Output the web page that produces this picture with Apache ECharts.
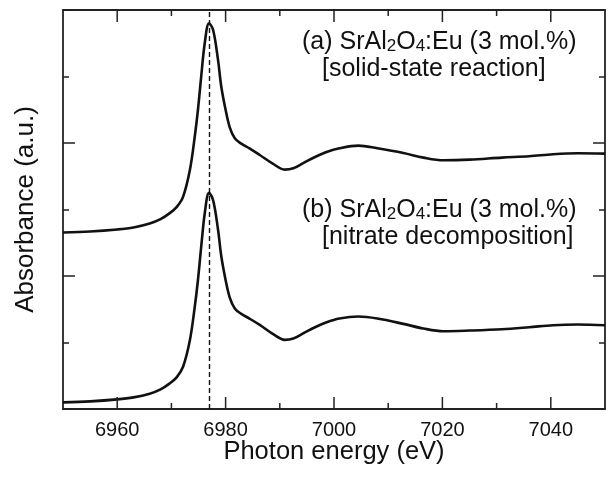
<!DOCTYPE html>
<html>
<head>
<meta charset="utf-8">
<script src="https://cdn.jsdelivr.net/npm/echarts@6/dist/echarts.min.js"></script>
<style>
  html, body { margin: 0; padding: 0; background: #ffffff; }
  #chart { width: 608px; height: 477px; }
</style>
</head>
<body>
<div id="chart"></div>
<script>
// Photon energy (eV) sample points shared by both spectra
var energy = [6950, 6955, 6960, 6963, 6966, 6968, 6969.7, 6971, 6972.15, 6973.4, 6974.3, 6974.9, 6975.5, 6976.15, 6976.94, 6977.7, 6978.6, 6979.2, 6980, 6980.75, 6981.7, 6982.9, 6984.4, 6986.3, 6988.7, 6990.9, 6992.5, 6994.4, 6996.5, 6998.5, 7001, 7004.5, 7008, 7012.8, 7016.5, 7020.2, 7025, 7031, 7036, 7040.4, 7045, 7050];
// (a) solid-state reaction (offset upward)
var absorbanceA = [2.655, 2.67, 2.70, 2.73, 2.79, 2.855, 2.945, 3.04, 3.19, 3.59, 4.09, 4.50, 5.00, 5.50, 5.80, 5.70, 5.25, 4.85, 4.50, 4.24, 4.07, 3.99, 3.92, 3.82, 3.69, 3.60, 3.62, 3.70, 3.79, 3.86, 3.92, 3.96, 3.92, 3.85, 3.78, 3.74, 3.75, 3.78, 3.80, 3.83, 3.845, 3.84];
// (b) nitrate decomposition
var absorbanceB = [0.10, 0.115, 0.145, 0.175, 0.23, 0.295, 0.385, 0.48, 0.635, 1.03, 1.53, 1.94, 2.44, 2.94, 3.25, 3.14, 2.70, 2.30, 1.94, 1.68, 1.51, 1.43, 1.36, 1.265, 1.13, 1.04, 1.06, 1.14, 1.23, 1.30, 1.36, 1.39, 1.36, 1.28, 1.21, 1.17, 1.18, 1.20, 1.23, 1.26, 1.27, 1.26];
var peakEnergy = 6977;
var xRange = [6950, 7050];
var xTickStep = 10;      // ticks every 10 eV
var xLabelStep = 20;     // labels + long ticks every 20 eV
var xTickMarks = [6960, 6970, 6980, 6990, 7000, 7010, 7020, 7030, 7040];
var yRange = [0, 6];
var labelA = ['(a) SrAl{s|2}O{s|4}:Eu (3 mol.%)', '[solid-state reaction]'];
var labelB = ['(b) SrAl{s|2}O{s|4}:Eu (3 mol.%)', '[nitrate decomposition]'];

function pairs(xs, ys) { return xs.map(function (x, i) { return [x, ys[i]]; }); }

var FONT = '"Liberation Sans", Arial, Helvetica, sans-serif';
var FRAME = '#222';
var TXT = '#111';
var chart = echarts.init(document.getElementById('chart'));

function frameX(pos, extra) {
  return Object.assign({
    type: 'value', position: pos, min: xRange[0], max: xRange[1], interval: xTickStep,
    axisLine: { show: true, onZero: false, lineStyle: { color: FRAME, width: 1.8 } },
    axisTick: { show: false },
    axisLabel: { show: false }, splitLine: { show: false }
  }, extra || {});
}
function yAx(pos, extra) {
  return Object.assign({
    type: 'value', position: pos, min: yRange[0], max: yRange[1], interval: 2,
    axisLine: { show: true, onZero: false, lineStyle: { color: FRAME, width: 1.8 } },
    axisTick: { show: true, inside: true, length: 12, lineStyle: { color: FRAME, width: 1.5 } },
    minorTick: { show: true, splitNumber: 2, length: 6, lineStyle: { color: FRAME, width: 1.5 } },
    axisLabel: { show: false },
    splitLine: { show: false }
  }, extra || {});
}

function labelText(lines, x, y) {
  return [
    { type: 'text', x: x, y: y, style: { text: lines[0], fontSize: 25, lineHeight: 26, fontFamily: FONT, fill: TXT, verticalAlign: 'top', align: 'left',
      rich: { s: { fontSize: 17, lineHeight: 26, verticalAlign: 'bottom', fontFamily: FONT, fill: TXT } } } },
    { type: 'text', x: x + 20, y: y + 27, style: { text: lines[1], fontSize: 25, lineHeight: 26, fontFamily: FONT, fill: TXT, verticalAlign: 'top', align: 'left' } }
  ];
}

chart.setOption({
  animation: false,
  backgroundColor: '#ffffff',
  grid: { left: 63, top: 10, right: 2, bottom: 68 },
  xAxis: [
    frameX('bottom', {
      axisLabel: {
        show: true, margin: 11, fontSize: 20, color: TXT, fontFamily: FONT,
        formatter: function (v) { return v % xLabelStep === 0 ? String(v) : ''; }
      },
      name: 'Photon energy (eV)', nameLocation: 'middle', nameGap: 30, nameMoveOverlap: false,
      nameTextStyle: { fontSize: 25.5, color: TXT, fontFamily: FONT }
    }),
    frameX('top')
  ],
  yAxis: [
    yAx('left', {
      name: 'Absorbance (a.u.)', nameLocation: 'middle', nameGap: 24,
      nameTextStyle: { fontSize: 26, color: TXT, fontFamily: FONT }
    }),
    yAx('right')
  ],
  series: [
    {
      name: 'a', type: 'line', data: pairs(energy, absorbanceA), xAxisIndex: 0, yAxisIndex: 0,
      showSymbol: false, smooth: 0.35, lineStyle: { color: TXT, width: 2.6 }, z: 3,
      markLine: {
        silent: true, symbol: 'none', label: { show: false },
        lineStyle: { color: TXT, width: 1.4, type: [5, 3] },
        data: [{ xAxis: peakEnergy }]
      }
    },
    {
      name: 'b', type: 'line', data: pairs(energy, absorbanceB), xAxisIndex: 0, yAxisIndex: 0,
      showSymbol: false, smooth: 0.35, lineStyle: { color: TXT, width: 2.6 }, z: 3
    }
  ]
});

// energy-axis tick marks (bottom and top), positioned through the axis scale
var tickEls = [];
xTickMarks.forEach(function (v) {
  var b = chart.convertToPixel({ xAxisIndex: 0, yAxisIndex: 0 }, [v, yRange[0]]);
  var t = chart.convertToPixel({ xAxisIndex: 0, yAxisIndex: 0 }, [v, yRange[1]]);
  var len = (v % xLabelStep === 0) ? 12 : 6;
  var st = { stroke: FRAME, lineWidth: 1.5 };
  tickEls.push({ type: 'line', z: 100, silent: true, shape: { x1: b[0], y1: b[1], x2: b[0], y2: b[1] - len }, style: st });
  tickEls.push({ type: 'line', z: 100, silent: true, shape: { x1: t[0], y1: t[1], x2: t[0], y2: t[1] + len }, style: st });
});

chart.setOption({
  graphic: labelText(labelA, 302, 29).concat(labelText(labelB, 302, 197)).concat(tickEls)
});
</script>
</body>
</html>
